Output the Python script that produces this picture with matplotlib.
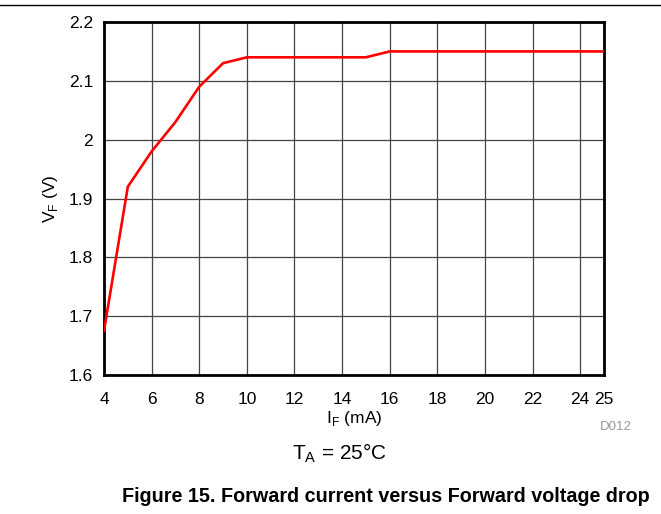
import numpy as np
import matplotlib.pyplot as plt

plt.rcParams["font.family"] = ["Liberation Sans", "DejaVu Sans"]

# datos
i_f = [4, 5, 6, 7, 8, 9, 10, 15, 16, 25]
v_f = [1.675, 1.92, 1.98, 2.03, 2.09, 2.13, 2.14, 2.14, 2.15, 2.15]
x_ticks = [4, 6, 8, 10, 12, 14, 16, 18, 20, 22, 24, 25]
x_labels = ["4", "6", "8", "10", "12", "14", "16", "18", "20", "22", "24", "25"]
y_ticks = [1.6, 1.7, 1.8, 1.9, 2.0, 2.1, 2.2]
y_labels = ["1.6", "1.7", "1.8", "1.9", "2", "2.1", "2.2"]

fig = plt.figure(figsize=(6.61, 5.14), dpi=100)
ax = fig.add_axes([104 / 661, 1 - 375 / 514, 500 / 661, 353 / 514])

ax.plot(i_f, v_f, color="#ff0000", linewidth=1.9, zorder=3)

ax.set_xlim(4, 25)
ax.set_ylim(1.6, 2.2)
ax.set_xticks(x_ticks)
ax.set_xticklabels(x_labels)
ax.set_yticks(y_ticks)
ax.set_yticklabels(y_labels)
ax.grid(True, color="#444444", linewidth=0.9)
ax.tick_params(axis="x", length=0, labelsize=12.5, pad=12)
ax.tick_params(axis="y", length=0, labelsize=12.5, pad=8)
for s in ax.spines.values():
    s.set_linewidth(2)

ax.set_xlabel("I$_\\mathregular{F}$ (mA)", fontsize=12.5, labelpad=2)
ax.set_ylabel("V$_\\mathregular{F}$ (V)", fontsize=12.5, labelpad=6)

fig.text(600 / 661, 1 - 427 / 514, "D012", color="#999999", fontsize=9.5, ha="left", va="center")
fig.text(339 / 661, 1 - 453 / 514, "T$_\\mathregular{A}$ = 25°C", fontsize=15, ha="center", va="center")
fig.text(386 / 661, 1 - 497 / 514, "Figure 15. Forward current versus Forward voltage drop",
         fontsize=14.2, fontweight="bold", ha="center", va="center")

# linea superior
fig.add_artist(plt.Line2D([0, 1], [1 - 5 / 514, 1 - 5 / 514], color="black", linewidth=1))

fig.savefig("out.png", dpi=100)
